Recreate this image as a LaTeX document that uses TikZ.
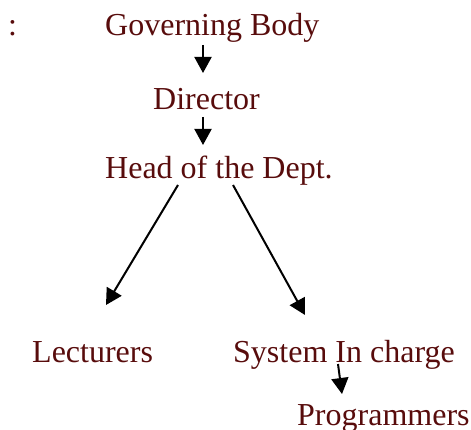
\documentclass[tikz,border=0pt]{standalone}
\usepackage{fontspec}
\setmainfont{Liberation Serif}
\usetikzlibrary{arrows.meta,calc}
\definecolor{maroon}{RGB}{88,12,12}
\begin{document}
\begin{tikzpicture}[x=1pt,y=-1pt,
  lbl/.style={anchor=base west,inner sep=0pt,text=maroon,font=\fontsize{32}{38}\selectfont},
  arr/.style={line width=2pt,-{Triangle[width=17pt,length=16pt]}}]
\useasboundingbox (0,0) rectangle (471,430);
\node[lbl] (colon) at (8,36) {:};
\node[lbl] (gov) at (105,36) {Governing Body};
\node[lbl] (dir) at (153,110) {Director};
\node[lbl] (head) at (105,179) {Head of the Dept.};
\node[lbl] (lect) at (32,362) {Lecturers};
\node[lbl] (sys) at (233,362) {System In charge};
\node[lbl] (prog) at (297,425) {Programmers};
\draw[arr] ($(gov.base west)+(98,9)$) -- ($(dir.base west)+(50,-37)$);
\draw[arr] ($(dir.base west)+(50,7)$) -- ($(head.base west)+(98,-34)$);
\draw[arr] ($(head.base west)+(73,6)$) -- ($(lect.base west)+(74,-57)$);
\draw[arr] ($(head.base west)+(128,6)$) -- ($(sys.base west)+(72,-47)$);
\draw[arr] ($(sys.base west)+(105,2)$) -- ($(prog.base west)+(45,-31)$);
\end{tikzpicture}
\end{document}
